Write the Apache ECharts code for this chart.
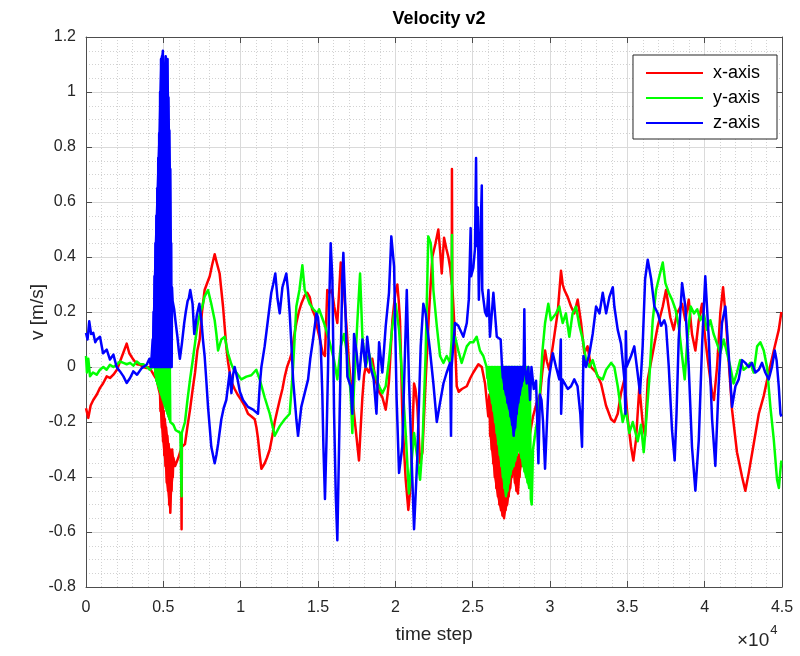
<!DOCTYPE html>
<html>
<head>
<meta charset="utf-8">
<script src="https://cdn.jsdelivr.net/npm/echarts@6/dist/echarts.min.js"></script>
<style>
html,body{margin:0;padding:0;background:#fff;}
#chart{width:800px;height:656px;}
</style>
</head>
<body>
<div id="chart"></div>
<script>
const seriesNames = ['x-axis', 'y-axis', 'z-axis'];
const chartTitle = 'Velocity v2';

// [time step, velocity] pairs
const velX = [[0,-0.15],[150,-0.185],[300,-0.14],[470,-0.12],[700,-0.10],[905,-0.076],[1100,-0.06],[1340,-0.034],[1550,-0.04],[1770,-0.028],[2000,-0.01],[2200,0.02],[2400,0.05],[2630,0.085],[2800,0.05],[3060,0.027],[3300,0.01],[3490,0.008],[3700,0.0],[3920,-0.004],[4100,0.0],[4250,-0.016],[4400,-0.03],[4570,-0.046],[4700,-0.08],
[4785,-0.10],[4820,-0.16],[4860,-0.11],[4900,-0.22],[4940,-0.13],[4980,-0.27],[5020,-0.16],[5060,-0.32],[5100,-0.19],[5140,-0.36],[5180,-0.22],[5220,-0.42],[5260,-0.25],[5300,-0.45],[5340,-0.28],[5380,-0.50],[5420,-0.30],[5450,-0.53],[5490,-0.32],[5530,-0.45],[5570,-0.30],[5610,-0.40],[5650,-0.33],[5760,-0.36],[5860,-0.355],[5970,-0.33],[6080,-0.31],[6150,-0.30],[6180,-0.59],[6200,-0.29],[6400,-0.28],[6550,-0.22],[6725,-0.155],[6900,-0.08],[7050,-0.02],[7200,0.06],[7350,0.10],[7500,0.20],[7670,0.28],[7800,0.30],[8000,0.33],[8150,0.37],[8320,0.41],[8450,0.38],[8640,0.34],[8750,0.28],[8860,0.22],[8960,0.15],[9070,0.075],[9180,0.02],[9290,-0.02],[9450,-0.06],[9610,-0.08],[9800,-0.10],[10040,-0.12],[10250,-0.14],[10475,-0.17],[10700,-0.18],[10910,-0.19],[11020,-0.22],[11120,-0.26],[11230,-0.32],[11340,-0.37],[11450,-0.36],[11555,-0.35],[11700,-0.33],[11880,-0.30],[12050,-0.25],[12200,-0.20],[12360,-0.16],[12525,-0.12],[12700,-0.08],[12850,-0.035],[13000,0.0],[13170,0.027],[13300,0.05],[13450,0.11],[13600,0.16],[13760,0.20],[13920,0.23],[14140,0.26],[14300,0.27],[14460,0.255],[14620,0.21],[14810,0.185],[14960,0.14],[15130,0.10],[15300,0.05],[15450,0.04],[15600,0.28],[15750,0.27],[15900,0.28],[16050,0.22],[16250,0.16],[16470,0.38],[16580,0.33],[16680,0.28],[16800,0.18],[16900,0.10],[17000,0.02],[17110,-0.05],[17220,-0.10],[17330,-0.17],[17500,-0.26],[17650,-0.34],[17760,-0.22],[17870,-0.11],[17980,-0.03],[18080,0.0],[18300,-0.02],[18510,0.03],[18730,-0.05],[18950,-0.09],[19160,-0.11],[19380,-0.155],[19500,-0.10],[19590,-0.05],[19700,0.06],[19810,0.17],[20020,0.28],[20130,0.30],[20220,0.24],[20300,0.17],[20380,0.0],[20450,-0.17],[20560,-0.30],[20670,-0.41],[20840,-0.52],[20990,-0.43],[21100,-0.25],[21210,-0.06],[21300,-0.08],[21420,-0.14],[21600,-0.35],[21750,-0.31],[21960,-0.05],[22180,0.20],[22390,0.40],[22460,0.40],[22600,0.45],[22780,0.50],[22900,0.42],[23000,0.34],[23150,0.47],[23300,0.43],[23430,0.40],[23550,0.36],[23650,0.30],[23660,0.72],[23680,0.30],[23750,0.30],[23820,0.15],[23900,0.03],[23970,-0.07],[24100,-0.09],[24300,-0.08],[24620,-0.07],[24850,-0.04],[25040,-0.02],[25370,0.01],[25590,0.0],[25800,-0.06],[26010,-0.18],
[26080,-0.10],[26130,-0.25],[26180,-0.12],[26230,-0.30],[26280,-0.15],[26330,-0.35],[26380,-0.18],[26430,-0.40],[26480,-0.22],[26530,-0.44],[26580,-0.25],[26630,-0.47],[26680,-0.28],[26730,-0.50],[26780,-0.30],[26830,-0.52],[26880,-0.33],[26930,-0.54],[26980,-0.35],[27030,-0.55],[27080,-0.36],[27130,-0.52],[27180,-0.34],[27230,-0.50],[27280,-0.35],[27330,-0.47],[27380,-0.33],[27430,-0.44],[27480,-0.32],[27530,-0.40],[27580,-0.30],[27630,-0.38],[27680,-0.32],[27730,-0.42],[27780,-0.34],[27830,-0.45],[27880,-0.33],[27930,-0.46],[27980,-0.32],[28030,-0.40],[28080,-0.30],[28130,-0.36],[28200,-0.33],[28350,-0.30],[28500,-0.27],[28710,-0.24],[28900,-0.18],[29140,-0.13],[29360,-0.10],[29500,-0.02],[29680,0.06],[29800,0.02],[29950,-0.01],[30180,0.075],[30500,0.20],[30710,0.35],[30820,0.30],[30930,0.28],[31140,0.255],[31360,0.22],[31570,0.195],[31790,0.245],[32010,0.16],[32220,0.05],[32430,0.075],[32650,0.0],[32980,-0.02],[33300,-0.06],[33620,-0.14],[33950,-0.19],[34160,-0.20],[34380,-0.17],[34590,-0.095],[34810,-0.045],[35030,-0.19],[35240,-0.29],[35390,-0.34],[35560,-0.265],[35780,-0.07],[36000,-0.21],[36150,-0.25],[36320,-0.045],[36640,0.05],[36970,0.15],[37290,0.22],[37500,0.28],[37570,0.28],[37780,0.18],[38000,0.135],[38210,0.195],[38540,0.23],[38750,0.17],[38970,0.245],[39180,0.12],[39400,0.06],[39620,0.17],[39830,0.23],[40040,0.10],[40260,0.0],[40480,-0.095],[40600,-0.12],[40800,0.0],[41010,0.195],[41190,0.29],[41340,0.195],[41550,0.025],[41770,-0.155],[42090,-0.31],[42420,-0.40],[42630,-0.45],[42850,-0.385],[43170,-0.28],[43500,-0.17],[43820,-0.105],[44140,-0.02],[44470,0.06],[44790,0.135],[44960,0.20]];

const velY = [[0,0.04],[60,-0.02],[150,0.03],[260,-0.034],[450,-0.02],[690,-0.028],[900,-0.01],[1120,0.0],[1330,-0.01],[1550,0.008],[1770,0.0],[1980,0.008],[2200,0.02],[2420,0.015],[2630,0.01],[2850,0.015],[3060,0.005],[3280,0.02],[3500,0.01],[3710,0.01],[3920,0.0],[4140,-0.01],[4300,0.0],[4460,0.0],
[4490,-0.03],[4520,0.0],[4550,-0.05],[4580,0.0],[4610,-0.06],[4640,0.0],[4670,-0.07],[4700,0.0],[4730,-0.08],[4760,0.0],[4790,-0.09],[4820,0.0],[4850,-0.10],[4880,0.0],[4910,-0.11],[4940,0.0],[4970,-0.12],[5000,0.0],[5030,-0.13],[5060,0.0],[5090,-0.14],[5120,0.0],[5150,-0.15],[5180,0.0],[5210,-0.16],[5240,0.0],[5270,-0.17],[5300,0.0],[5330,-0.18],[5360,0.0],[5390,-0.19],[5420,0.0],[5450,-0.20],[5650,-0.21],[5800,-0.23],[5970,-0.235],[6100,-0.24],[6170,-0.24],[6180,-0.47],[6190,-0.24],[6400,-0.20],[6560,-0.12],[6725,-0.046],[6890,0.02],[7050,0.087],[7200,0.15],[7370,0.196],[7520,0.22],[7670,0.257],[7890,0.28],[8100,0.23],[8320,0.17],[8430,0.12],[8540,0.06],[8750,0.10],[8970,0.11],[9180,0.05],[9400,0.01],[9560,-0.01],[9720,-0.02],[10040,-0.045],[10370,-0.035],[10690,-0.03],[11010,-0.01],[11230,-0.045],[11550,-0.11],[11880,-0.17],[12200,-0.25],[12525,-0.215],[12850,-0.19],[13170,-0.17],[13390,0.0],[13600,0.22],[13800,0.28],[13990,0.37],[14140,0.28],[14460,0.23],[14700,0.21],[14960,0.195],[15070,0.21],[15390,0.16],[15710,0.10],[16040,0.025],[16250,-0.045],[16470,0.075],[16680,0.12],[16900,0.04],[17110,-0.095],[17220,-0.24],[17330,-0.07],[17540,0.16],[17720,0.34],[17870,0.11],[18080,0.0],[18300,0.05],[18510,0.0],[18730,-0.035],[18950,-0.07],[19160,-0.095],[19380,-0.07],[19590,0.025],[19810,0.15],[20020,0.23],[20240,0.135],[20450,-0.045],[20670,-0.24],[20880,-0.46],[21030,-0.36],[21210,-0.24],[21420,-0.33],[21600,-0.41],[21750,-0.29],[21960,0.05],[22130,0.475],[22290,0.45],[22400,0.37],[22460,0.28],[22680,0.15],[22890,0.04],[23110,0.015],[23320,0.04],[23540,0.015],[23640,0.10],[23660,0.48],[23680,0.10],[23860,0.11],[24070,0.06],[24290,0.015],[24620,0.075],[24830,0.09],[25040,0.09],[25260,0.11],[25470,0.06],[25690,0.04],[25900,0.0],
[25950,-0.04],[26000,0],[26050,-0.08],[26100,0],[26150,-0.10],[26200,0],[26250,-0.13],[26300,0],[26350,-0.16],[26400,0],[26450,-0.20],[26500,0],[26550,-0.24],[26600,0],[26650,-0.28],[26700,0],[26750,-0.32],[26800,0],[26850,-0.36],[26900,0],[26950,-0.40],[27000,0],[27050,-0.44],[27100,0],[27150,-0.47],[27200,0],[27250,-0.45],[27300,0],[27350,-0.42],[27400,0],[27450,-0.39],[27500,0],[27550,-0.37],[27600,0],[27650,-0.36],[27700,0],[27750,-0.34],[27800,0],[27850,-0.32],[27900,0],[27950,-0.30],[28000,0],[28050,-0.31],[28100,0],[28150,-0.33],[28200,0],[28250,-0.36],[28300,0],[28350,-0.38],[28400,0],[28450,-0.40],[28500,0],[28550,-0.42],[28600,0],[28650,-0.44],[28700,-0.05],[28760,-0.48],[28820,-0.50],[28900,-0.30],[29000,-0.30],[29100,-0.22],[29250,-0.18],[29400,-0.05],[29500,0.05],[29680,0.16],[29890,0.23],[30060,0.17],[30390,0.195],[30600,0.22],[30820,0.16],[31030,0.195],[31250,0.11],[31460,0.195],[31680,0.22],[31900,0.15],[32120,0.10],[32330,0.025],[32550,0.0],[32760,0.025],[33080,-0.035],[33410,-0.045],[33630,-0.01],[33950,0.015],[34160,0.0],[34380,-0.07],[34700,-0.2],[34910,-0.155],[35130,-0.24],[35350,-0.2],[35670,-0.27],[35880,-0.21],[36060,-0.31],[36200,-0.21],[36420,-0.045],[36640,0.17],[36860,0.28],[37070,0.33],[37290,0.38],[37460,0.305],[37680,0.27],[37890,0.245],[38110,0.21],[38320,0.15],[38540,0.04],[38710,-0.045],[38880,0.10],[39100,0.22],[39310,0.195],[39520,0.21],[39720,0.17],[39940,0.195],[40150,0.135],[40370,0.17],[40580,0.12],[40800,0.085],[41010,0.05],[41230,0.10],[41450,0.05],[41660,0.0],[41870,-0.06],[42090,-0.02],[42300,0.025],[42520,-0.01],[42740,0.0],[42950,0.015],[43170,-0.02],[43390,0.075],[43600,0.09],[43820,0.06],[44030,0.0],[44250,-0.145],[44470,-0.265],[44680,-0.41],[44800,-0.44],[44880,-0.385],[44960,-0.34]];

const velZ = [[0,0.124],[100,0.10],[210,0.166],[330,0.12],[470,0.124],[600,0.09],[700,0.10],[905,0.11],[1100,0.05],[1340,0.063],[1550,0.027],[1770,0.045],[1980,0.0],[2200,-0.016],[2420,-0.034],[2630,-0.058],[2850,-0.04],[3060,-0.016],[3300,-0.028],[3600,-0.004],[3920,0.008],[4100,0.03],[4200,0.0],
[4280,0],[4310,0.10],[4340,0],[4370,0.2],[4400,0],[4430,0.33],[4460,0],[4490,0.45],[4520,0],[4550,0.55],[4580,0],[4610,0.65],[4640,0],[4670,0.76],[4700,0],[4730,0.85],[4760,0],[4790,1.0],[4820,0],[4850,1.12],[4880,0],[4910,1.13],[4940,0],[4970,1.15],[5000,0],[5030,1.10],[5060,0],[5090,1.08],[5120,0],[5150,1.13],[5180,0],[5210,1.10],[5240,0],[5270,1.12],[5300,0],[5330,0.98],[5360,0],[5390,0.86],[5420,0],[5450,0.72],[5480,0],[5510,0.45],[5540,0],[5560,0.29],[5600,0.24],[5700,0.21],[5800,0.16],[5910,0.11],[6000,0.06],[6070,0.03],[6200,0.085],[6350,0.16],[6450,0.20],[6570,0.24],[6650,0.25],[6740,0.28],[6890,0.23],[7000,0.12],[7100,0.16],[7170,0.19],[7330,0.23],[7460,0.17],[7560,0.10],[7670,0.04],[7780,-0.05],[7890,-0.145],[8000,-0.22],[8100,-0.29],[8320,-0.35],[8430,-0.32],[8540,-0.28],[8750,-0.19],[8900,-0.15],[9070,-0.12],[9180,-0.07],[9290,-0.02],[9400,-0.095],[9500,-0.03],[9610,0.0],[9800,-0.045],[9950,-0.09],[10150,-0.12],[10475,-0.145],[10800,-0.155],[11120,-0.17],[11230,-0.07],[11340,0.0],[11550,0.075],[11760,0.17],[11980,0.27],[12100,0.30],[12240,0.34],[12380,0.25],[12525,0.195],[12700,0.29],[12950,0.34],[13060,0.28],[13170,0.195],[13280,0.08],[13390,-0.045],[13500,-0.12],[13600,-0.19],[13710,-0.25],[13920,-0.145],[14140,-0.095],[14360,-0.045],[14500,0.03],[14680,0.10],[14900,0.195],[15000,0.18],[15180,0.075],[15280,-0.10],[15350,-0.29],[15450,-0.48],[15550,-0.265],[15650,0.0],[15710,0.195],[15820,0.45],[15930,0.32],[16040,-0.17],[16150,-0.47],[16250,-0.63],[16400,-0.17],[16570,0.32],[16640,0.415],[16780,0.195],[16900,-0.035],[17110,-0.07],[17220,-0.17],[17330,0.12],[17500,0.05],[17650,-0.045],[17870,0.10],[18080,0.0],[18180,0.11],[18400,0.0],[18600,-0.045],[18780,-0.17],[18950,0.09],[19160,-0.02],[19380,0.15],[19590,0.27],[19740,0.475],[19920,0.365],[20080,-0.11],[20240,-0.385],[20450,-0.29],[20740,0.28],[20880,-0.045],[21100,-0.41],[21210,-0.59],[21420,-0.33],[21640,0.075],[21810,0.23],[21960,0.195],[22240,0.06],[22460,-0.06],[22680,-0.2],[22890,-0.13],[23110,-0.06],[23320,-0.02],[23540,0.015],[23600,-0.25],[23640,0.0],[23860,0.16],[24070,0.15],[24400,0.11],[24620,0.16],[24750,0.245],[24870,0.505],[24900,0.33],[25040,0.36],[25150,0.43],[25220,0.76],[25260,0.44],[25330,0.58],[25400,0.245],[25590,0.66],[25620,0.28],[25800,0.20],[25910,0.185],[26020,0.28],[26120,0.11],[26340,0.27],[26560,0.11],[26810,0.10],
[26900,0],[26950,-0.04],[27000,0],[27050,-0.08],[27100,0],[27150,-0.10],[27200,0],[27250,-0.13],[27300,0],[27350,-0.15],[27400,0],[27450,-0.18],[27500,0],[27550,-0.21],[27600,0],[27650,-0.25],[27700,0],[27750,-0.22],[27800,0],[27850,-0.17],[27900,0],[27950,-0.13],[28000,0],[28050,-0.10],[28100,0],[28150,-0.07],[28200,0],[28250,-0.05],[28300,0],[28340,0.21],[28380,0],[28500,-0.06],[28600,0.0],[28710,-0.12],[28800,0.0],[28950,-0.08],[29100,-0.05],[29250,-0.35],[29350,-0.1],[29450,-0.12],[29550,-0.2],[29680,-0.37],[29740,-0.37],[29920,-0.045],[30180,0.05],[30390,0.0],[30600,-0.045],[30700,0.10],[30720,-0.17],[30800,-0.045],[31150,-0.08],[31360,-0.07],[31570,-0.045],[31780,-0.07],[31960,-0.17],[32070,-0.29],[32160,0.04],[32330,0.0],[32550,0.05],[32760,0.12],[32980,0.22],[33200,0.195],[33410,0.27],[33630,0.195],[33840,0.255],[34060,0.29],[34160,0.22],[34380,0.135],[34590,0.085],[34810,-0.045],[34880,-0.17],[34900,0.13],[34950,0.0],[35240,0.04],[35450,0.075],[35660,-0.02],[35820,-0.095],[35990,0.075],[36150,0.32],[36320,0.39],[36540,0.32],[36750,0.22],[36970,0.195],[37180,0.15],[37390,0.17],[37500,0.15],[37680,0.0],[37890,-0.23],[38060,-0.34],[38180,-0.17],[38320,0.10],[38540,0.305],[38750,0.22],[38970,0.0],[39180,-0.29],[39400,-0.45],[39620,-0.265],[39830,0.075],[40040,0.33],[40260,0.11],[40480,-0.19],[40690,-0.36],[40900,-0.07],[41120,0.16],[41340,0.22],[41550,0.05],[41770,-0.145],[41990,-0.07],[42200,-0.045],[42420,0.025],[42630,0.015],[42850,0.0],[43060,0.015],[43280,-0.02],[43500,-0.01],[43710,0.015],[43920,-0.02],[44140,-0.045],[44350,0.0],[44530,0.06],[44650,0.025],[44790,-0.07],[44900,-0.17],[44960,-0.18]];

// time-step ranges where the trace oscillates too fast to resolve (drawn as a solid band)
const denseX = [[4785, 5650], [26080, 28130]];
const denseY = [[4460, 5450], [25950, 28650]];
const denseZ = [[4280, 5540], [26900, 28300]];

const xTicks = { min: 0, max: 45000, interval: 5000, scale: 10000 };
const yTicks = { min: -0.8, max: 1.2, interval: 0.2 };

const FONT = '"Liberation Sans", Arial, Helvetica, sans-serif';
const TXT = '#262626';
const chart = echarts.init(document.getElementById('chart'), null, { renderer: 'canvas' });

const grid = { left: 86, top: 37, width: 696, height: 550, containLabel: false };
const gridLine = { show: true, lineStyle: { color: '#dadada', width: 1 } };
const minorGrid = { show: true, lineStyle: { color: '#d2d2d2', width: 1, type: [1, 2] } };
const axisLine = { show: true, onZero: false, lineStyle: { color: '#4d4d4d', width: 1 } };
const tick = { show: true, inside: true, length: 6, lineStyle: { color: '#4d4d4d', width: 1 } };

const inRange = (data, [a, b]) => data.filter(p => p[0] >= a && p[0] <= b);
const lineSeries = (name, data, color, width, area) => ({
  name, type: 'line', data, showSymbol: false, symbol: 'none',
  lineStyle: { color, width, join: 'round' }, itemStyle: { color },
  areaStyle: area ? { color, opacity: 1, origin: 0 } : undefined,
  animation: false, silent: !!area
});
// zero-bounded oscillation: fill from the extremes back to v = 0
const zeroBands = (name, data, ranges, color) => ranges.map(r =>
  lineSeries(name, inRange(data, r).filter(p => p[1] !== 0), color, 1.5, true));
// band between alternating extremes of an oscillation, mapped through the axes
const bandSeries = (name, data, ranges, color) => ({
  name, type: 'custom', coordinateSystem: 'cartesian2d',
  data: ranges.map(r => [r[0], 0]), clip: true, z: 3,
  renderItem: (params, api) => {
    const pts = inRange(data, ranges[params.dataIndex]);
    const even = pts.filter((p, i) => i % 2 === 0);
    const odd = pts.filter((p, i) => i % 2 === 1).reverse();
    const poly = even.concat(odd).map(p => api.coord(p));
    return { type: 'polygon', shape: { points: poly },
      style: { fill: color, stroke: color, lineWidth: 1.5, lineJoin: 'round' } };
  },
  animation: false, silent: true
});

chart.setOption({
  animation: false,
  backgroundColor: '#ffffff',
  title: {
    text: chartTitle, left: 434, top: 5, textAlign: 'center',
    textStyle: { fontFamily: FONT, fontSize: 18, fontWeight: 'bold', color: '#000' }
  },
  grid,
  legend: {
    orient: 'vertical', right: 23, top: 55,
    backgroundColor: '#ffffff', borderColor: '#262626', borderWidth: 1,
    padding: [9, 17, 7, 13], itemGap: 7, itemWidth: 57, itemHeight: 2,
    icon: 'rect',
    textStyle: { fontFamily: FONT, fontSize: 18, color: '#000', padding: [0, 0, 0, 5] },
    data: seriesNames
  },
  xAxis: [{
    type: 'value', min: xTicks.min, max: xTicks.max, interval: xTicks.interval,
    name: 'time step', nameLocation: 'middle', nameGap: 38, nameMoveOverlap: false,
    nameTextStyle: { fontFamily: FONT, fontSize: 19, color: TXT },
    axisLine, axisTick: tick,
    axisLabel: { fontFamily: FONT, fontSize: 16, color: TXT, margin: 13,
      formatter: v => String(+(v / xTicks.scale).toFixed(2)) },
    splitLine: gridLine,
    minorTick: { show: false, splitNumber: 5 },
    minorSplitLine: minorGrid
  }, {
    type: 'value', position: 'top', min: xTicks.min, max: xTicks.max, interval: xTicks.interval,
    axisLine, axisTick: tick, axisLabel: { show: false }, splitLine: { show: false }
  }],
  yAxis: [{
    type: 'value', min: yTicks.min, max: yTicks.max, interval: yTicks.interval,
    name: 'v [m/s]', nameLocation: 'middle', nameGap: 39, nameRotate: 90, nameMoveOverlap: false,
    nameTextStyle: { fontFamily: FONT, fontSize: 19, color: TXT },
    axisLine, axisTick: tick,
    axisLabel: { fontFamily: FONT, fontSize: 16, color: TXT, margin: 10,
      formatter: v => String(+v.toFixed(1)) },
    splitLine: gridLine,
    minorTick: { show: false, splitNumber: 4 },
    minorSplitLine: minorGrid
  }, {
    type: 'value', position: 'right', min: yTicks.min, max: yTicks.max, interval: yTicks.interval,
    axisLine, axisTick: tick, axisLabel: { show: false }, splitLine: { show: false }
  }],
  series: [
    lineSeries(seriesNames[0], velX, '#ff0000', 2.5, false),
    bandSeries(seriesNames[0], velX, denseX, '#ff0000'),
    lineSeries(seriesNames[1], velY, '#00ff00', 2.5, false),
    ...zeroBands(seriesNames[1], velY, denseY, '#00ff00'),
    lineSeries(seriesNames[2], velZ, '#0000ff', 2.5, false),
    ...zeroBands(seriesNames[2], velZ, denseZ, '#0000ff')
  ],
  graphic: [{
    type: 'text', left: 737, top: 624,
    style: {
      text: '{a|×10}{b|4}',
      rich: {
        a: { fontFamily: FONT, fontSize: 19, fill: TXT, padding: [12, 0, 0, 0] },
        b: { fontFamily: FONT, fontSize: 13, fill: TXT, padding: [0, 0, 8, 1] }
      }
    }
  }]
});
</script>
</body>
</html>
